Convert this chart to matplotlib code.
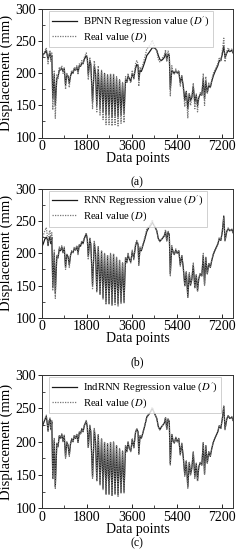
import matplotlib
matplotlib.use("Agg")
import matplotlib.pyplot as plt
from matplotlib.ticker import MultipleLocator

plt.rcParams['font.family'] = ['Liberation Serif', 'DejaVu Serif']
plt.rcParams['mathtext.fontset'] = 'stix'

# data points (x positions of the vertices)
x = [0, 60, 120, 180, 220, 250, 290, 330, 360, 400,
     440, 500, 540, 600, 650, 700, 750, 800, 850, 900,
     950, 1000, 1050, 1100, 1150, 1200, 1250, 1300, 1350, 1400,
     1450, 1500, 1550, 1600, 1650, 1700, 1780, 1820, 1860, 1920,
     1960, 2030, 2100, 2150, 2200, 2260, 2330, 2390, 2450, 2510,
     2570, 2630, 2690, 2750, 2810, 2870, 2930, 2990, 3050, 3110,
     3170, 3230, 3290, 3350, 3400, 3450, 3500, 3560, 3620, 3680,
     3750, 3800, 3850, 3880, 3930, 3980, 4050, 4120, 4200, 4280,
     4350, 4420, 4480, 4540, 4600, 4660, 4720, 4780, 4840, 4900,
     4950, 5000, 5050, 5100, 5140, 5200, 5260, 5300, 5360, 5420,
     5480, 5540, 5600, 5660, 5720, 5780, 5840, 5900, 5950, 6000,
     6060, 6120, 6180, 6230, 6280, 6340, 6400, 6460, 6510, 6560,
     6620, 6680, 6740, 6800, 6860, 6920, 6980, 7040, 7100, 7160,
     7220, 7280, 7330, 7400, 7460, 7520, 7600, 7650]

# real displacement D (mm)
real = [222, 228, 235, 240, 228, 215, 232, 236, 218, 232,
        143, 205, 130, 198, 192, 210, 205, 212, 200, 210,
        175, 200, 195, 178, 198, 205, 200, 210, 205, 212,
        198, 215, 212, 220, 215, 225, 232, 222, 190, 225,
        215, 145, 220, 200, 140, 212, 135, 205, 128, 200,
        120, 198, 120, 200, 118, 200, 120, 195, 118, 190,
        122, 186, 123, 195, 185, 200, 190, 185, 205, 190,
        215, 220, 215, 180, 210, 205, 215, 225, 238, 242,
        245, 252, 245, 240, 235, 222, 218, 222, 225, 228,
        237, 218, 235, 230, 165, 212, 200, 198, 207, 200,
        205, 180, 198, 176, 148, 172, 130, 170, 150, 160,
        185, 145, 168, 140, 162, 170, 165, 200, 150, 195,
        168, 185, 178, 190, 200, 205, 210, 215, 225, 220,
        235, 255, 218, 235, 240, 235, 238, 232]

# BPNN regression D'
bpnn = [225, 230, 232, 236, 228, 222, 228, 232, 222, 228,
        160, 198, 150, 192, 195, 205, 206, 208, 203, 207,
        182, 198, 196, 185, 196, 202, 201, 207, 205, 210,
        202, 212, 211, 216, 215, 222, 228, 224, 198, 220,
        214, 155, 212, 200, 150, 206, 145, 203, 140, 200,
        135, 197, 135, 198, 132, 197, 134, 193, 132, 190,
        135, 185, 138, 190, 186, 196, 192, 188, 200, 193,
        208, 214, 212, 190, 205, 203, 210, 218, 228, 232,
        236, 240, 240, 239, 236, 228, 222, 220, 222, 225,
        232, 222, 230, 228, 175, 205, 202, 200, 204, 201,
        203, 185, 195, 180, 158, 172, 145, 168, 158, 162,
        180, 155, 166, 150, 162, 168, 166, 192, 160, 188,
        170, 182, 178, 188, 196, 202, 207, 212, 220, 220,
        230, 242, 225, 232, 236, 234, 236, 232]

# RNN regression D'
rnn = [210, 215, 222, 225, 222, 212, 222, 226, 215, 225,
       148, 200, 138, 195, 193, 207, 204, 210, 201, 208,
       178, 198, 195, 182, 197, 203, 201, 208, 205, 211,
       200, 213, 211, 218, 215, 223, 230, 222, 195, 222,
       214, 150, 216, 200, 142, 209, 137, 203, 131, 199,
       124, 196, 123, 198, 121, 198, 123, 193, 121, 189,
       124, 185, 125, 193, 186, 198, 191, 187, 203, 192,
       212, 218, 214, 184, 208, 204, 213, 222, 234, 240,
       243, 248, 244, 240, 235, 223, 219, 221, 224, 227,
       234, 220, 233, 229, 168, 210, 201, 198, 205, 200,
       204, 182, 196, 178, 150, 171, 133, 168, 151, 159,
       182, 147, 166, 142, 161, 168, 165, 197, 152, 193,
       168, 184, 178, 189, 198, 204, 209, 214, 223, 220,
       233, 258, 220, 234, 238, 235, 237, 232]

# IndRNN regression D'
indrnn = [220, 227, 233, 238, 227, 216, 230, 234, 219, 230,
          145, 203, 132, 197, 193, 209, 205, 211, 201, 209,
          177, 199, 195, 180, 197, 204, 200, 209, 205, 211,
          199, 214, 212, 219, 215, 224, 231, 222, 192, 224,
          215, 147, 218, 200, 142, 210, 137, 204, 130, 199,
          122, 197, 122, 199, 120, 199, 122, 194, 120, 189,
          124, 186, 125, 194, 185, 199, 190, 186, 204, 191,
          214, 219, 215, 182, 209, 205, 214, 224, 237, 241,
          245, 250, 245, 240, 235, 223, 218, 222, 225, 228,
          236, 219, 234, 230, 167, 211, 200, 198, 206, 200,
          205, 181, 197, 177, 150, 171, 132, 169, 151, 160,
          184, 147, 167, 142, 162, 169, 165, 198, 152, 194,
          168, 185, 178, 190, 199, 205, 210, 215, 224, 220,
          234, 253, 219, 234, 239, 235, 237, 232]

models = ["BPNN", "RNN", "IndRNN"]
preds = [bpnn, rnn, indrnn]
captions = ["(a)", "(b)", "(c)"]
# axes boxes [left, bottom, width, height] in figure fraction
boxes = [[0.172, 0.750, 0.787, 0.233],
         [0.172, 0.4224, 0.787, 0.234],
         [0.172, 0.0758, 0.787, 0.242]]
cap_y = [0.668, 0.342, 0.012]

fig = plt.figure(figsize=(2.43, 5.5), dpi=100)

for i in range(3):
    ax = fig.add_axes(boxes[i])
    ax.plot(x, preds[i], color='#1a1a1a', lw=0.9,
            label=models[i] + r" Regression value ($D'$)")
    ax.plot(x, real, color='#777777', lw=0.9, ls=(0, (1, 1)),
            label=r"Real value ($D$)")
    ax.set_xlim(0, 7650)
    ax.set_ylim(100, 300)
    ax.xaxis.set_major_locator(MultipleLocator(1800))
    ax.xaxis.set_minor_locator(MultipleLocator(900))
    ax.yaxis.set_major_locator(MultipleLocator(50))
    ax.yaxis.set_minor_locator(MultipleLocator(25))
    ax.tick_params(axis='y', which='major', direction='out', length=3, width=0.6, labelsize=10, pad=1)
    ax.tick_params(axis='x', which='major', direction='in', length=3, width=0.6, labelsize=10, pad=2)
    ax.tick_params(which='minor', direction='in', length=2, width=0.5)
    for s in ax.spines.values():
        s.set_linewidth(0.7)
        s.set_color('#333333')
    ax.set_xlabel("Data points", fontsize=10, labelpad=-1)
    ax.set_ylabel("Displacement (mm)", fontsize=10.5, labelpad=2)
    leg = ax.legend(loc='upper left', bbox_to_anchor=(0.03, 0.995), fontsize=7.7,
                    frameon=True, fancybox=False, edgecolor='#bbbbbb',
                    handlelength=2.4, borderaxespad=0.1, labelspacing=0.15,
                    borderpad=0.3, handletextpad=0.5)
    leg.get_frame().set_linewidth(0.6)
    fig.text(0.565, cap_y[i], captions[i], ha='center', va='center', fontsize=8.5)

fig.savefig("out.png", dpi=100)
